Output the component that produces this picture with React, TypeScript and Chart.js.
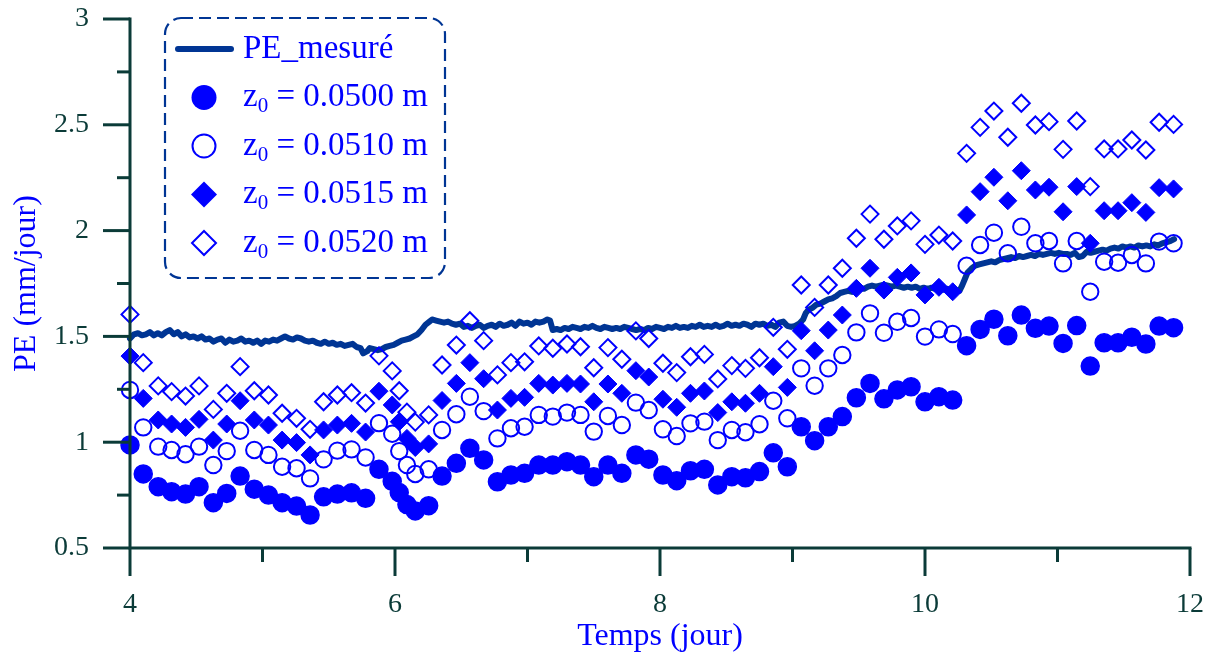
import { useEffect, useRef } from 'react';
import { Chart, registerables } from 'chart.js';

Chart.register(...registerables);

// ---------- DATA ----------
const TIME = [
  4.000, 4.100, 4.213, 4.314, 4.419, 4.521, 4.629, 4.730, 4.831, 4.938,
  5.045, 5.148, 5.257, 5.359, 5.461, 5.565, 5.672, 5.778, 5.879, 5.979,
  6.032, 6.090, 6.153, 6.254, 6.355, 6.463, 6.565, 6.669, 6.773, 6.875,
  6.978, 7.085, 7.191, 7.298, 7.400, 7.500, 7.607, 7.712, 7.818, 7.915,
  8.022, 8.126, 8.230, 8.335, 8.436, 8.542, 8.645, 8.751, 8.855, 8.961,
  9.066, 9.167, 9.270, 9.376, 9.482, 9.585, 9.690, 9.791, 9.895, 10.000,
  10.105, 10.209, 10.314, 10.416, 10.520, 10.625, 10.727, 10.833, 10.936, 11.042,
  11.145, 11.247, 11.352, 11.457, 11.561, 11.667, 11.767, 11.876,
];

const PE_Z0500 = [
  0.987, 0.850, 0.790, 0.766, 0.755, 0.790, 0.714, 0.758, 0.840, 0.778,
  0.750, 0.714, 0.698, 0.656, 0.742, 0.755, 0.761, 0.735, 0.872, 0.815,
  0.762, 0.705, 0.675, 0.700, 0.840, 0.900, 0.971, 0.916, 0.813, 0.845,
  0.853, 0.892, 0.892, 0.908, 0.892, 0.837, 0.892, 0.853, 0.940, 0.920,
  0.845, 0.818, 0.865, 0.872, 0.798, 0.837, 0.832, 0.861, 0.950, 0.884,
  1.073, 1.007, 1.073, 1.121, 1.210, 1.278, 1.205, 1.247, 1.262, 1.191,
  1.215, 1.199, 1.456, 1.533, 1.581, 1.503, 1.601, 1.538, 1.549, 1.467,
  1.551, 1.360, 1.470, 1.470, 1.496, 1.464, 1.549, 1.541,
];

const PE_Z0510 = [
  1.247, 1.070, 0.979, 0.963, 0.943, 0.979, 0.892, 0.958, 1.054, 0.963,
  0.940, 0.884, 0.877, 0.829, 0.919, 0.960, 0.966, 0.928, 1.090, 1.040,
  0.958, 0.892, 0.850, 0.872, 1.058, 1.132, 1.215, 1.147, 1.018, 1.066,
  1.073, 1.129, 1.121, 1.140, 1.129, 1.050, 1.124, 1.081, 1.187, 1.152,
  1.061, 1.029, 1.089, 1.097, 1.010, 1.058, 1.047, 1.085, 1.196, 1.113,
  1.349, 1.267, 1.349, 1.412, 1.519, 1.609, 1.517, 1.569, 1.587, 1.499,
  1.533, 1.511, 1.834, 1.932, 1.990, 1.893, 2.018, 1.940, 1.951, 1.845,
  1.951, 1.711, 1.853, 1.848, 1.885, 1.845, 1.948, 1.940,
];

const PE_Z0515 = [
  1.407, 1.207, 1.105, 1.086, 1.070, 1.108, 1.010, 1.086, 1.196, 1.105,
  1.081, 1.010, 0.998, 0.940, 1.058, 1.081, 1.089, 1.048, 1.241, 1.176,
  1.097, 1.018, 0.975, 0.992, 1.197, 1.278, 1.376, 1.300, 1.152, 1.207,
  1.212, 1.278, 1.270, 1.278, 1.275, 1.191, 1.275, 1.231, 1.338, 1.308,
  1.203, 1.165, 1.231, 1.242, 1.140, 1.191, 1.184, 1.231, 1.357, 1.259,
  1.527, 1.432, 1.530, 1.601, 1.727, 1.822, 1.719, 1.779, 1.800, 1.696,
  1.732, 1.711, 2.074, 2.184, 2.252, 2.141, 2.283, 2.192, 2.205, 2.089,
  2.208, 1.940, 2.094, 2.094, 2.132, 2.086, 2.203, 2.197,
];

const PE_Z0520 = [
  1.604, 1.376, 1.266, 1.239, 1.218, 1.266, 1.155, 1.231, 1.357, 1.243,
  1.223, 1.137, 1.113, 1.061, 1.191, 1.223, 1.234, 1.185, 1.408, 1.337,
  1.243, 1.142, 1.095, 1.129, 1.365, 1.459, 1.574, 1.480, 1.318, 1.376,
  1.380, 1.455, 1.444, 1.464, 1.451, 1.352, 1.447, 1.392, 1.526, 1.490,
  1.373, 1.329, 1.404, 1.415, 1.299, 1.362, 1.349, 1.399, 1.543, 1.439,
  1.743, 1.637, 1.743, 1.822, 1.964, 2.078, 1.959, 2.022, 2.046, 1.935,
  1.979, 1.951, 2.365, 2.488, 2.565, 2.441, 2.602, 2.499, 2.515, 2.384,
  2.518, 2.208, 2.386, 2.386, 2.428, 2.381, 2.512, 2.502,
];

const MEAS_TIME = [
  4.00, 4.03, 4.06, 4.09, 4.12, 4.15, 4.18, 4.21, 4.24, 4.27,
  4.30, 4.33, 4.36, 4.39, 4.42, 4.45, 4.48, 4.51, 4.54, 4.57,
  4.60, 4.63, 4.66, 4.69, 4.72, 4.75, 4.78, 4.81, 4.84, 4.87,
  4.90, 4.93, 4.96, 4.99, 5.02, 5.05, 5.08, 5.11, 5.14, 5.17,
  5.20, 5.23, 5.26, 5.29, 5.32, 5.35, 5.38, 5.41, 5.44, 5.47,
  5.50, 5.53, 5.56, 5.59, 5.62, 5.65, 5.68, 5.71, 5.74, 5.76,
  5.79, 5.81, 5.84, 5.87, 5.90, 5.93, 5.96, 5.99, 6.02, 6.05,
  6.08, 6.11, 6.14, 6.17, 6.20, 6.23, 6.26, 6.28, 6.31, 6.34,
  6.37, 6.40, 6.43, 6.46, 6.49, 6.52, 6.55, 6.58, 6.61, 6.64,
  6.67, 6.70, 6.73, 6.76, 6.79, 6.82, 6.85, 6.88, 6.91, 6.94,
  6.97, 7.00, 7.03, 7.06, 7.09, 7.12, 7.15, 7.17, 7.19, 7.22,
  7.25, 7.28, 7.31, 7.34, 7.37, 7.40, 7.43, 7.46, 7.49, 7.52,
  7.55, 7.58, 7.61, 7.64, 7.67, 7.70, 7.73, 7.76, 7.79, 7.82,
  7.85, 7.88, 7.91, 7.94, 7.97, 8.00, 8.03, 8.06, 8.09, 8.12,
  8.15, 8.18, 8.21, 8.24, 8.27, 8.30, 8.33, 8.36, 8.39, 8.42,
  8.45, 8.48, 8.51, 8.54, 8.57, 8.60, 8.63, 8.66, 8.69, 8.72,
  8.75, 8.78, 8.81, 8.84, 8.87, 8.90, 8.93, 8.96, 8.99, 9.02,
  9.05, 9.08, 9.10, 9.12, 9.15, 9.18, 9.21, 9.24, 9.27, 9.30,
  9.33, 9.36, 9.39, 9.42, 9.45, 9.48, 9.51, 9.54, 9.57, 9.60,
  9.63, 9.66, 9.69, 9.72, 9.75, 9.78, 9.81, 9.84, 9.87, 9.90,
  9.93, 9.96, 9.99, 10.02, 10.05, 10.08, 10.11, 10.14, 10.17, 10.20,
  10.23, 10.26, 10.28, 10.30, 10.32, 10.35, 10.38, 10.41, 10.44, 10.47,
  10.50, 10.53, 10.56, 10.59, 10.62, 10.65, 10.68, 10.71, 10.74, 10.77,
  10.80, 10.83, 10.86, 10.89, 10.92, 10.95, 10.98, 11.01, 11.04, 11.07,
  11.10, 11.13, 11.16, 11.19, 11.22, 11.25, 11.28, 11.31, 11.34, 11.37,
  11.40, 11.43, 11.46, 11.49, 11.52, 11.55, 11.58, 11.61, 11.64, 11.67,
  11.70, 11.73, 11.76, 11.79, 11.82, 11.85, 11.88,
];

const MEAS_PE = [
  1.49, 1.51, 1.515, 1.505, 1.51, 1.52, 1.505, 1.515, 1.505, 1.52,
  1.53, 1.51, 1.52, 1.50, 1.51, 1.495, 1.50, 1.49, 1.50, 1.485,
  1.49, 1.475, 1.485, 1.49, 1.47, 1.485, 1.475, 1.48, 1.49, 1.475,
  1.48, 1.47, 1.48, 1.465, 1.48, 1.475, 1.485, 1.48, 1.49, 1.50,
  1.49, 1.485, 1.495, 1.49, 1.48, 1.475, 1.48, 1.47, 1.465, 1.475,
  1.465, 1.47, 1.46, 1.465, 1.455, 1.46, 1.465, 1.45, 1.445, 1.42,
  1.43, 1.445, 1.44, 1.435, 1.44, 1.45, 1.455, 1.46, 1.47, 1.48,
  1.485, 1.49, 1.50, 1.51, 1.53, 1.555, 1.57, 1.58, 1.575, 1.57,
  1.565, 1.57, 1.56, 1.555, 1.56, 1.545, 1.55, 1.54, 1.55, 1.555,
  1.54, 1.55, 1.555, 1.545, 1.56, 1.55, 1.555, 1.565, 1.55, 1.57,
  1.56, 1.565, 1.555, 1.57, 1.565, 1.57, 1.58, 1.575, 1.53, 1.535,
  1.53, 1.54, 1.535, 1.545, 1.54, 1.535, 1.545, 1.54, 1.55, 1.54,
  1.535, 1.545, 1.54, 1.535, 1.54, 1.535, 1.545, 1.54, 1.535, 1.53,
  1.535, 1.53, 1.54, 1.535, 1.545, 1.54, 1.535, 1.545, 1.54, 1.55,
  1.54, 1.545, 1.54, 1.55, 1.545, 1.555, 1.545, 1.55, 1.545, 1.555,
  1.545, 1.55, 1.56, 1.55, 1.555, 1.55, 1.56, 1.555, 1.545, 1.56,
  1.555, 1.56, 1.55, 1.555, 1.545, 1.565, 1.57, 1.55, 1.545, 1.55,
  1.56, 1.58, 1.61, 1.625, 1.635, 1.65, 1.655, 1.665, 1.675, 1.68,
  1.69, 1.705, 1.71, 1.715, 1.71, 1.72, 1.73, 1.725, 1.735, 1.74,
  1.735, 1.74, 1.745, 1.74, 1.735, 1.74, 1.735, 1.73, 1.735, 1.73,
  1.735, 1.725, 1.73, 1.725, 1.73, 1.725, 1.73, 1.72, 1.725, 1.715,
  1.72, 1.715, 1.74, 1.77, 1.80, 1.82, 1.835, 1.84, 1.845, 1.85,
  1.855, 1.85, 1.86, 1.865, 1.87, 1.875, 1.87, 1.88, 1.875, 1.88,
  1.885, 1.88, 1.89, 1.885, 1.89, 1.895, 1.89, 1.895, 1.89, 1.89,
  1.885, 1.895, 1.875, 1.88, 1.90, 1.895, 1.90, 1.905, 1.91, 1.905,
  1.915, 1.92, 1.915, 1.925, 1.92, 1.925, 1.92, 1.93, 1.925, 1.93,
  1.925, 1.935, 1.93, 1.94, 1.945, 1.95, 1.96,
];

const SERIES_LABELS = ['PE_mesuré', 'z₀ = 0.0500 m', 'z₀ = 0.0510 m', 'z₀ = 0.0515 m', 'z₀ = 0.0520 m'];
const X_TITLE = 'Temps (jour)';
const Y_TITLE = 'PE (mm/jour)';

// ---------- STYLE ----------
const FONT = 'Liberation Serif';
const AXIS_COLOR = '#0b3b38';
const BLUE = '#0000ff';
const DARK_BLUE = '#003594';

const pts = (xs: number[], ys: number[]) => xs.map((x, i) => ({ x, y: ys[i] }));

function drawMarker(ctx: CanvasRenderingContext2D, style: string, filled: boolean, x: number, y: number, r: number) {
  ctx.beginPath();
  if (style === 'circle') {
    ctx.arc(x, y, r, 0, Math.PI * 2);
  } else {
    ctx.moveTo(x, y - r);
    ctx.lineTo(x + r, y);
    ctx.lineTo(x, y + r);
    ctx.lineTo(x - r, y);
    ctx.closePath();
  }
  if (filled) {
    ctx.fillStyle = BLUE;
    ctx.fill();
  } else {
    ctx.strokeStyle = BLUE;
    ctx.lineWidth = 2;
    ctx.stroke();
  }
}

const decorPlugin = {
  id: 'decor',
  afterDraw(chart: any) {
    const ctx: CanvasRenderingContext2D = chart.ctx;
    const xs = chart.scales.x;
    const ys = chart.scales.y;
    const x0 = xs.getPixelForValue(xs.min);
    const x1 = xs.getPixelForValue(xs.max);
    const y0 = ys.getPixelForValue(ys.min);
    const y1 = ys.getPixelForValue(ys.max);
    ctx.save();
    ctx.strokeStyle = AXIS_COLOR;
    ctx.lineWidth = 3;
    ctx.lineCap = 'square';
    ctx.beginPath();
    ctx.moveTo(x0, y1);
    ctx.lineTo(x0, y0);
    ctx.lineTo(x1, y0);
    ctx.stroke();
    ctx.lineCap = 'butt';
    // y ticks (major every 0.5, minor every 0.25)
    for (let k = 0; k <= 10; k++) {
      const v = ys.min + k * 0.25;
      const py = ys.getPixelForValue(v);
      const len = k % 2 === 0 ? 27 : 13;
      ctx.beginPath();
      ctx.moveTo(x0 - len, py);
      ctx.lineTo(x0, py);
      ctx.stroke();
    }
    // x ticks (major every 2, minor every 1)
    for (let k = 0; k <= 8; k++) {
      const v = xs.min + k;
      const px = xs.getPixelForValue(v);
      const len = k % 2 === 0 ? 28 : 14;
      ctx.beginPath();
      ctx.moveTo(px, y0);
      ctx.lineTo(px, y0 + len);
      ctx.stroke();
    }

    // legend
    const bx = 165, by = 18, bw = 280, bh = 260, br = 16;
    ctx.strokeStyle = DARK_BLUE;
    ctx.lineWidth = 2.2;
    ctx.setLineDash([12, 6]);
    ctx.beginPath();
    ctx.moveTo(bx + br, by);
    ctx.lineTo(bx + bw - br, by);
    ctx.arcTo(bx + bw, by, bx + bw, by + br, br);
    ctx.lineTo(bx + bw, by + bh - br);
    ctx.arcTo(bx + bw, by + bh, bx + bw - br, by + bh, br);
    ctx.lineTo(bx + br, by + bh);
    ctx.arcTo(bx, by + bh, bx, by + bh - br, br);
    ctx.lineTo(bx, by + br);
    ctx.arcTo(bx, by, bx + br, by, br);
    ctx.closePath();
    ctx.stroke();
    ctx.setLineDash([]);

    const rows = [49, 97.5, 146, 194.5, 243];
    const textX = 243;
    chart.data.datasets.forEach((ds: any, i: number) => {
      const ry = rows[i];
      if (ds.type === 'line') {
        ctx.strokeStyle = DARK_BLUE;
        ctx.lineWidth = 6;
        ctx.lineCap = 'round';
        ctx.beginPath();
        ctx.moveTo(178, ry);
        ctx.lineTo(231, ry);
        ctx.stroke();
        ctx.lineCap = 'butt';
      } else {
        const style = ds.pointStyle === 'rectRot' ? 'diamond' : 'circle';
        const filled = ds.backgroundColor !== 'rgba(0,0,0,0)';
        drawMarker(ctx, style, filled, 204, ry, style === 'circle' ? (filled ? 12.5 : 11.5) : (filled ? 13 : 12));
      }
      ctx.fillStyle = BLUE;
      ctx.textBaseline = 'middle';
      ctx.textAlign = 'left';
      const parts = String(ds.label).split('₀');
      ctx.font = `33px "${FONT}"`;
      let cx = textX;
      ctx.fillText(parts[0], cx, ry);
      cx += ctx.measureText(parts[0]).width;
      if (parts.length > 1) {
        ctx.font = `21px "${FONT}"`;
        ctx.fillText('0', cx, ry + 9);
        cx += ctx.measureText('0').width;
        ctx.font = `33px "${FONT}"`;
        ctx.fillText(parts[1], cx, ry);
      }
    });
    ctx.restore();
  },
};

export default function App() {
  const ref = useRef<HTMLCanvasElement>(null);
  useEffect(() => {
    document.body.style.margin = '0';
    document.body.style.overflow = 'hidden';
    Chart.defaults.font.family = FONT;
    const chart = new Chart(ref.current as HTMLCanvasElement, {
      type: 'scatter',
      data: {
        datasets: [
          {
            type: 'line',
            label: SERIES_LABELS[0],
            data: pts(MEAS_TIME, MEAS_PE),
            borderColor: DARK_BLUE,
            borderWidth: 6,
            borderCapStyle: 'round',
            borderJoinStyle: 'round',
            pointRadius: 0,
            tension: 0,
            fill: false,
            order: 5,
            clip: false,
          } as any,
          {
            label: SERIES_LABELS[1],
            data: pts(TIME, PE_Z0500),
            pointStyle: 'circle',
            pointRadius: 9,
            backgroundColor: BLUE,
            borderColor: BLUE,
            borderWidth: 1.5,
            order: 0,
            clip: false,
          },
          {
            label: SERIES_LABELS[2],
            data: pts(TIME, PE_Z0510),
            pointStyle: 'circle',
            pointRadius: 8.2,
            backgroundColor: 'rgba(0,0,0,0)',
            borderColor: BLUE,
            borderWidth: 2,
            order: 0,
            clip: false,
          },
          {
            label: SERIES_LABELS[3],
            data: pts(TIME, PE_Z0515),
            pointStyle: 'rectRot',
            pointRadius: 9,
            backgroundColor: BLUE,
            borderColor: BLUE,
            borderWidth: 1,
            order: 0,
            clip: false,
          },
          {
            label: SERIES_LABELS[4],
            data: pts(TIME, PE_Z0520),
            pointStyle: 'rectRot',
            pointRadius: 8.5,
            backgroundColor: 'rgba(0,0,0,0)',
            borderColor: BLUE,
            borderWidth: 2,
            order: 0,
            clip: false,
          },
        ],
      },
      options: {
        responsive: false,
        animation: false,
        devicePixelRatio: 1,
        layout: { padding: { left: 0, top: 19, right: 22, bottom: 0 } },
        plugins: {
          legend: { display: false },
          tooltip: { enabled: false },
        },
        scales: {
          x: {
            type: 'linear',
            min: 4,
            max: 12,
            grid: { display: false, drawTicks: false },
            border: { display: false },
            ticks: {
              stepSize: 2,
              color: AXIS_COLOR,
              font: { family: FONT, size: 28 },
              padding: 40,
              maxRotation: 0,
              callback: (v: any) => String(v),
            },
            title: {
              display: true,
              text: X_TITLE,
              color: BLUE,
              font: { family: FONT, size: 32 },
              padding: { top: 0, bottom: 1 },
            },
            afterFit: (s: any) => {
              s.height = 109;
              s.paddingLeft = 0;
              s.paddingRight = 0;
            },
          },
          y: {
            type: 'linear',
            min: 0.5,
            max: 3,
            grid: { display: false, drawTicks: false },
            border: { display: false },
            ticks: {
              stepSize: 0.5,
              color: AXIS_COLOR,
              font: { family: FONT, size: 28 },
              padding: 41,
              callback: (v: any) => String(v),
            },
            title: {
              display: true,
              text: Y_TITLE,
              color: BLUE,
              font: { family: FONT, size: 32 },
              padding: { top: 7, bottom: 0 },
            },
            afterFit: (s: any) => {
              s.width = 130;
              s.paddingTop = 0;
              s.paddingBottom = 0;
            },
          },
        },
      },
      plugins: [decorPlugin],
    });
    return () => chart.destroy();
  }, []);
  return (
    <div style={{ width: 1212, height: 657 }}>
      <canvas ref={ref} width={1212} height={657} style={{ display: 'block' }} />
    </div>
  );
}
